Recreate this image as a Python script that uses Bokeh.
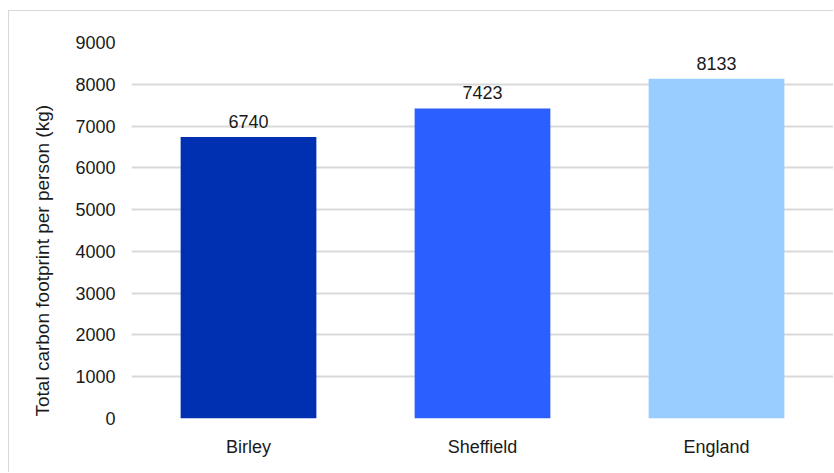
from bokeh.plotting import figure
from bokeh.models import ColumnDataSource, LabelSet, FixedTicker, Title
from bokeh.core.properties import value
from bokeh.embed import file_html
from bokeh.resources import INLINE

categories = ["Birley", "Sheffield", "England"]
values = [6740, 7423, 8133]
colors = ["#0030B2", "#2B5FFF", "#99CCFF"]
y_ticks = [0, 1000, 2000, 3000, 4000, 5000, 6000, 7000, 8000, 9000]
y_title = "Total carbon footprint per person (kg)"

FONT = "Liberation Sans"

src = ColumnDataSource(dict(cat=categories, val=values, col=colors,
                            lab=[str(v) for v in values]))

p = figure(x_range=categories, y_range=(0, 9000), width=825, height=462,
           output_backend="svg", toolbar_location=None,
           min_border_left=121, min_border_right=1, min_border_top=31,
           min_border_bottom=55)
p.x_range.range_padding = 0
p.styles = {"margin-left": "8px", "margin-top": "10px",
            "border-left": "1px solid #d9d9d9", "border-top": "1px solid #d9d9d9"}

p.vbar(x="cat", top="val", width=0.58, color="col", line_color=None, source=src)

labels = LabelSet(x="cat", y="val", text="lab", source=src, text_align="center",
                  text_baseline="alphabetic", y_offset=9, text_font=value(FONT),
                  text_font_size=value("18px"), text_color=value("#1a1a1a"))
p.add_layout(labels)

title = Title(text=y_title, align="left", offset=2, standoff=40,
              text_font=FONT, text_font_size="19px", text_font_style="normal",
              text_color="#1a1a1a")
p.add_layout(title, "left")

p.outline_line_color = None
p.xgrid.grid_line_color = None
p.ygrid.grid_line_color = "#d9d9d9"
p.ygrid.grid_line_width = 2

p.yaxis.ticker = FixedTicker(ticks=y_ticks)
for ax in (p.xaxis, p.yaxis):
    ax.axis_line_color = None
    ax.major_tick_line_color = None
    ax.minor_tick_line_color = None
    ax.major_tick_out = 0
    ax.major_label_text_font = FONT
    ax.major_label_text_font_size = "18px"
    ax.major_label_text_color = "#1a1a1a"
p.yaxis.major_label_standoff = 16
p.xaxis.major_label_standoff = 18

open("out.html", "w").write(file_html(p, INLINE))
